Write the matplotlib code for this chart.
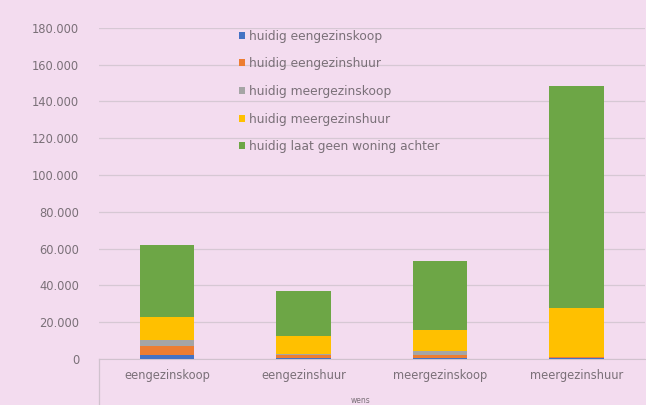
import matplotlib
matplotlib.use("Agg")
import matplotlib.pyplot as plt
import numpy as np

# gewenste woningtype (x-as) en huidige woningsituatie (stapels)
categories = ["eengezinskoop", "eengezinshuur", "meergezinskoop", "meergezinshuur"]
series_names = [
    "huidig eengezinskoop",
    "huidig eengezinshuur",
    "huidig meergezinskoop",
    "huidig meergezinshuur",
    "huidig laat geen woning achter",
]
huidig_eengezinskoop = [2000, 500, 500, 300]
huidig_eengezinshuur = [5000, 1700, 1500, 700]
huidig_meergezinskoop = [3000, 300, 2000, 200]
huidig_meergezinshuur = [12500, 9700, 11800, 26700]
huidig_geen_woning = [39500, 24800, 37400, 120600]
yticks = [0, 20000, 40000, 60000, 80000, 100000, 120000, 140000, 160000, 180000]

series = [huidig_eengezinskoop, huidig_eengezinshuur, huidig_meergezinskoop,
          huidig_meergezinshuur, huidig_geen_woning]
colors = ["#4472C4", "#ED7D31", "#A5A5A5", "#FFC000", "#6DA646"]

bg = "#f3dcef"
txt = "#7a7078"

fig = plt.figure(figsize=(6.46, 4.05), dpi=100, facecolor=bg)
ax = fig.add_axes([0.153, 0.114, 0.845, 0.817], facecolor=bg)

x = np.arange(len(categories))
bottom = np.zeros(len(categories))
for name, vals, c in zip(series_names, series, colors):
    ax.bar(x, vals, width=0.4, bottom=bottom, color=c, label=name, zorder=3)
    bottom += np.array(vals)

ax.set_xlim(-0.5, len(categories) - 0.5)
ax.set_ylim(0, 180000)
ax.set_yticks(yticks)
ax.set_yticklabels([f"{v:,}".replace(",", ".") for v in yticks])
ax.yaxis.grid(True, color="#d6c8d4", linewidth=0.9, zorder=0)
ax.set_axisbelow(True)

for side in ["top", "right", "left"]:
    ax.spines[side].set_visible(False)
ax.spines["bottom"].set_color("#d0c2ce")
ax.tick_params(axis="both", length=0, labelsize=8.3, colors=txt)
ax.tick_params(axis="y", pad=14)
ax.tick_params(axis="x", pad=7)
ax.set_xticks(x)
ax.set_xticklabels(categories)

# linker rand van het categorievak onder de as
ax.plot([0, 0], [0, -0.14], transform=ax.transAxes, color="#d0c2ce",
        linewidth=0.9, clip_on=False)
ax.text(0.48, -0.125, "wens", transform=ax.transAxes, ha="center", va="center",
        fontsize=5.5, color=txt)

leg = ax.legend(loc="upper left", bbox_to_anchor=(0.248, 1.01), frameon=False,
                fontsize=8.8, labelspacing=1.2, handlelength=0.5, handleheight=0.5,
                handletextpad=0.3, borderaxespad=0)
for t in leg.get_texts():
    t.set_color(txt)

fig.savefig("out.png", dpi=100, facecolor=bg)
